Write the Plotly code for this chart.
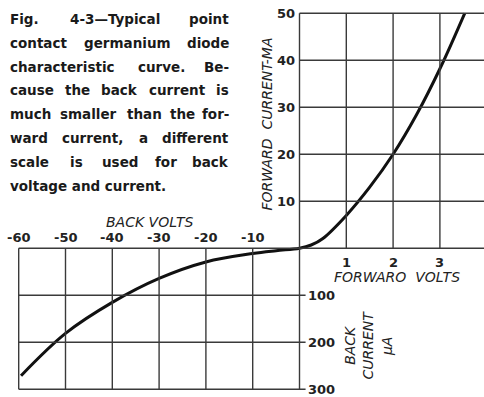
import plotly.graph_objects as go

# --- data ---
fwd_volts = [0, 0.25, 0.5, 1.0, 1.5, 2.0, 2.5, 3.0, 3.53]
fwd_ma = [0, 0.7, 2.1, 7.0, 13.0, 20.0, 28.4, 38.2, 50]
back_volts = [-59.5, -50, -40, -30, -20, -10, -5, 0]
back_ua = [271, 181, 115, 64, 29, 11, 5, 0]

fwd_v_ticks = [1, 2, 3, 4]
fwd_ma_ticks = [10, 20, 30, 40, 50]
back_v_ticks = [-60, -50, -40, -30, -20, -10]
back_ua_ticks = [100, 200, 300]

caption = [
    "Fig. 4-3—Typical point",
    "contact germanium diode",
    "characteristic curve. Be-",
    "cause the back current is",
    "much smaller than the for-",
    "ward current, a different",
    "scale is used for back",
    "voltage and current.",
]

# one grid cell = 1 unit: 1 V / 10 mA forward, 10 V / 100 uA back
fx = lambda v: v
fy = lambda ma: ma / 10
bx = lambda v: v / 10
by = lambda ua: -ua / 100

W, H = 484, 397
OX, OY, SX, SY = 299.5, 248.3, 46.8, 47.0
xr = [-OX / SX, (W - OX) / SX]
yr = [-(H - OY) / SY, OY / SY]

GRID = "#3a3a3a"
fig = go.Figure()

shapes = []
def seg(x0, y0, x1, y1, w=1.4):
    shapes.append(dict(type="line", x0=x0, y0=y0, x1=x1, y1=y1, xref="x", yref="y",
                       line=dict(color=GRID, width=w)))

top = fy(max(fwd_ma_ticks))
right = fx(max(fwd_v_ticks))
left = bx(min(back_v_ticks))
bottom = by(max(back_ua_ticks))
# forward quadrant
seg(0, 0, right + 0.5, 0)
for t in fwd_ma_ticks:
    seg(0, fy(t), right + 0.5, fy(t))
for t in fwd_v_ticks:
    seg(fx(t), 0, fx(t), top)
# back quadrant
seg(left, 0, 0, 0)
for t in back_ua_ticks:
    seg(left, by(t), 0.13, by(t))
for t in back_v_ticks:
    seg(bx(t), 0, bx(t), bottom)
seg(0, top, 0, bottom)

fig.add_trace(go.Scatter(
    x=[bx(v) for v in back_volts] + [fx(v) for v in fwd_volts[1:]],
    y=[by(i) for i in back_ua] + [fy(i) for i in fwd_ma[1:]],
    mode="lines", line=dict(color="#111", width=3, shape="spline", smoothing=1),
    hoverinfo="skip", showlegend=False))

ann = []
tick_font = dict(family="DejaVu Sans", size=13, color="#222")
lab_font = dict(family="DejaVu Sans", size=14, color="#222")
for t in fwd_ma_ticks:
    ann.append(dict(x=-0.06, y=fy(t), text=f"<b>{t}</b>", xanchor="right", yanchor="middle", font=tick_font))
for t in fwd_v_ticks:
    ann.append(dict(x=fx(t), y=-0.3, text=f"<b>{t}</b>", xanchor="center", yanchor="middle", font=tick_font))
for t in back_v_ticks:
    ann.append(dict(x=bx(t), y=0.23, text=f"<b>{t}</b>", xanchor="center", yanchor="middle", font=tick_font))
for t in back_ua_ticks:
    ann.append(dict(x=0.13, y=by(t), text=f"<b>{t}</b>", xanchor="left", yanchor="middle", font=tick_font))

ann.append(dict(x=-0.7, y=2.65, text="<i>FORWARD  CURRENT-MA</i>", textangle=-90,
                xanchor="center", yanchor="middle", font=lab_font))
ann.append(dict(x=-3.2, y=0.56, text="<i>BACK VOLTS</i>", xanchor="center", yanchor="middle", font=lab_font))
ann.append(dict(x=2.09, y=-0.62, text="<i>FORWARO  VOLTS</i>", xanchor="center", yanchor="middle", font=lab_font))
ann.append(dict(x=1.46, y=-2.05, text="<i>BACK<br>CURRENT<br>µA</i>", textangle=-90,
                xanchor="center", yanchor="middle", align="center", font=lab_font))

# caption, roughly justified word by word between x=8 and x=231 px
FS = 13.5
cap_font = dict(family="DejaVu Sans", size=FS, color="#1a1a1a")

def text_w(s):
    w = 0
    for c in s:
        if c in "iljft.,-r":
            w += 0.44
        elif c in "mw—":
            w += 1.0
        elif c.isupper():
            w += 0.74
        else:
            w += 0.69
    return w * FS

L0, L1 = 8, 231
for i, line in enumerate(caption):
    ypx = 19 + i * 23.8
    words = line.split()
    if i == len(caption) - 1:
        ann.append(dict(xref="paper", yref="paper", x=L0 / W, y=1 - ypx / H, text=f"<b>{line}</b>",
                        xanchor="left", yanchor="middle", showarrow=False, font=cap_font))
        continue
    lens = [text_w(w) for w in words]
    gap = (L1 - L0 - sum(lens)) / (len(words) - 1)
    pos = L0
    for j, w in enumerate(words):
        if j == 0:
            xa, xp = "left", pos
        elif j == len(words) - 1:
            xa, xp = "right", L1
        else:
            xa, xp = "center", pos + lens[j] / 2
        ann.append(dict(xref="paper", yref="paper", x=xp / W, y=1 - ypx / H, text=f"<b>{w}</b>",
                        xanchor=xa, yanchor="middle", showarrow=False, font=cap_font))
        pos += lens[j] + gap

for a in ann:
    a.setdefault("showarrow", False)

fig.update_layout(
    width=W, height=H, margin=dict(l=0, r=0, t=0, b=0),
    paper_bgcolor="white", plot_bgcolor="white",
    xaxis=dict(range=xr, visible=False, fixedrange=True),
    yaxis=dict(range=yr, visible=False, fixedrange=True),
    shapes=shapes, annotations=ann,
)
fig.write_html("out.html", config={"displayModeBar": False},
               post_script="document.body.style.margin='0';")
